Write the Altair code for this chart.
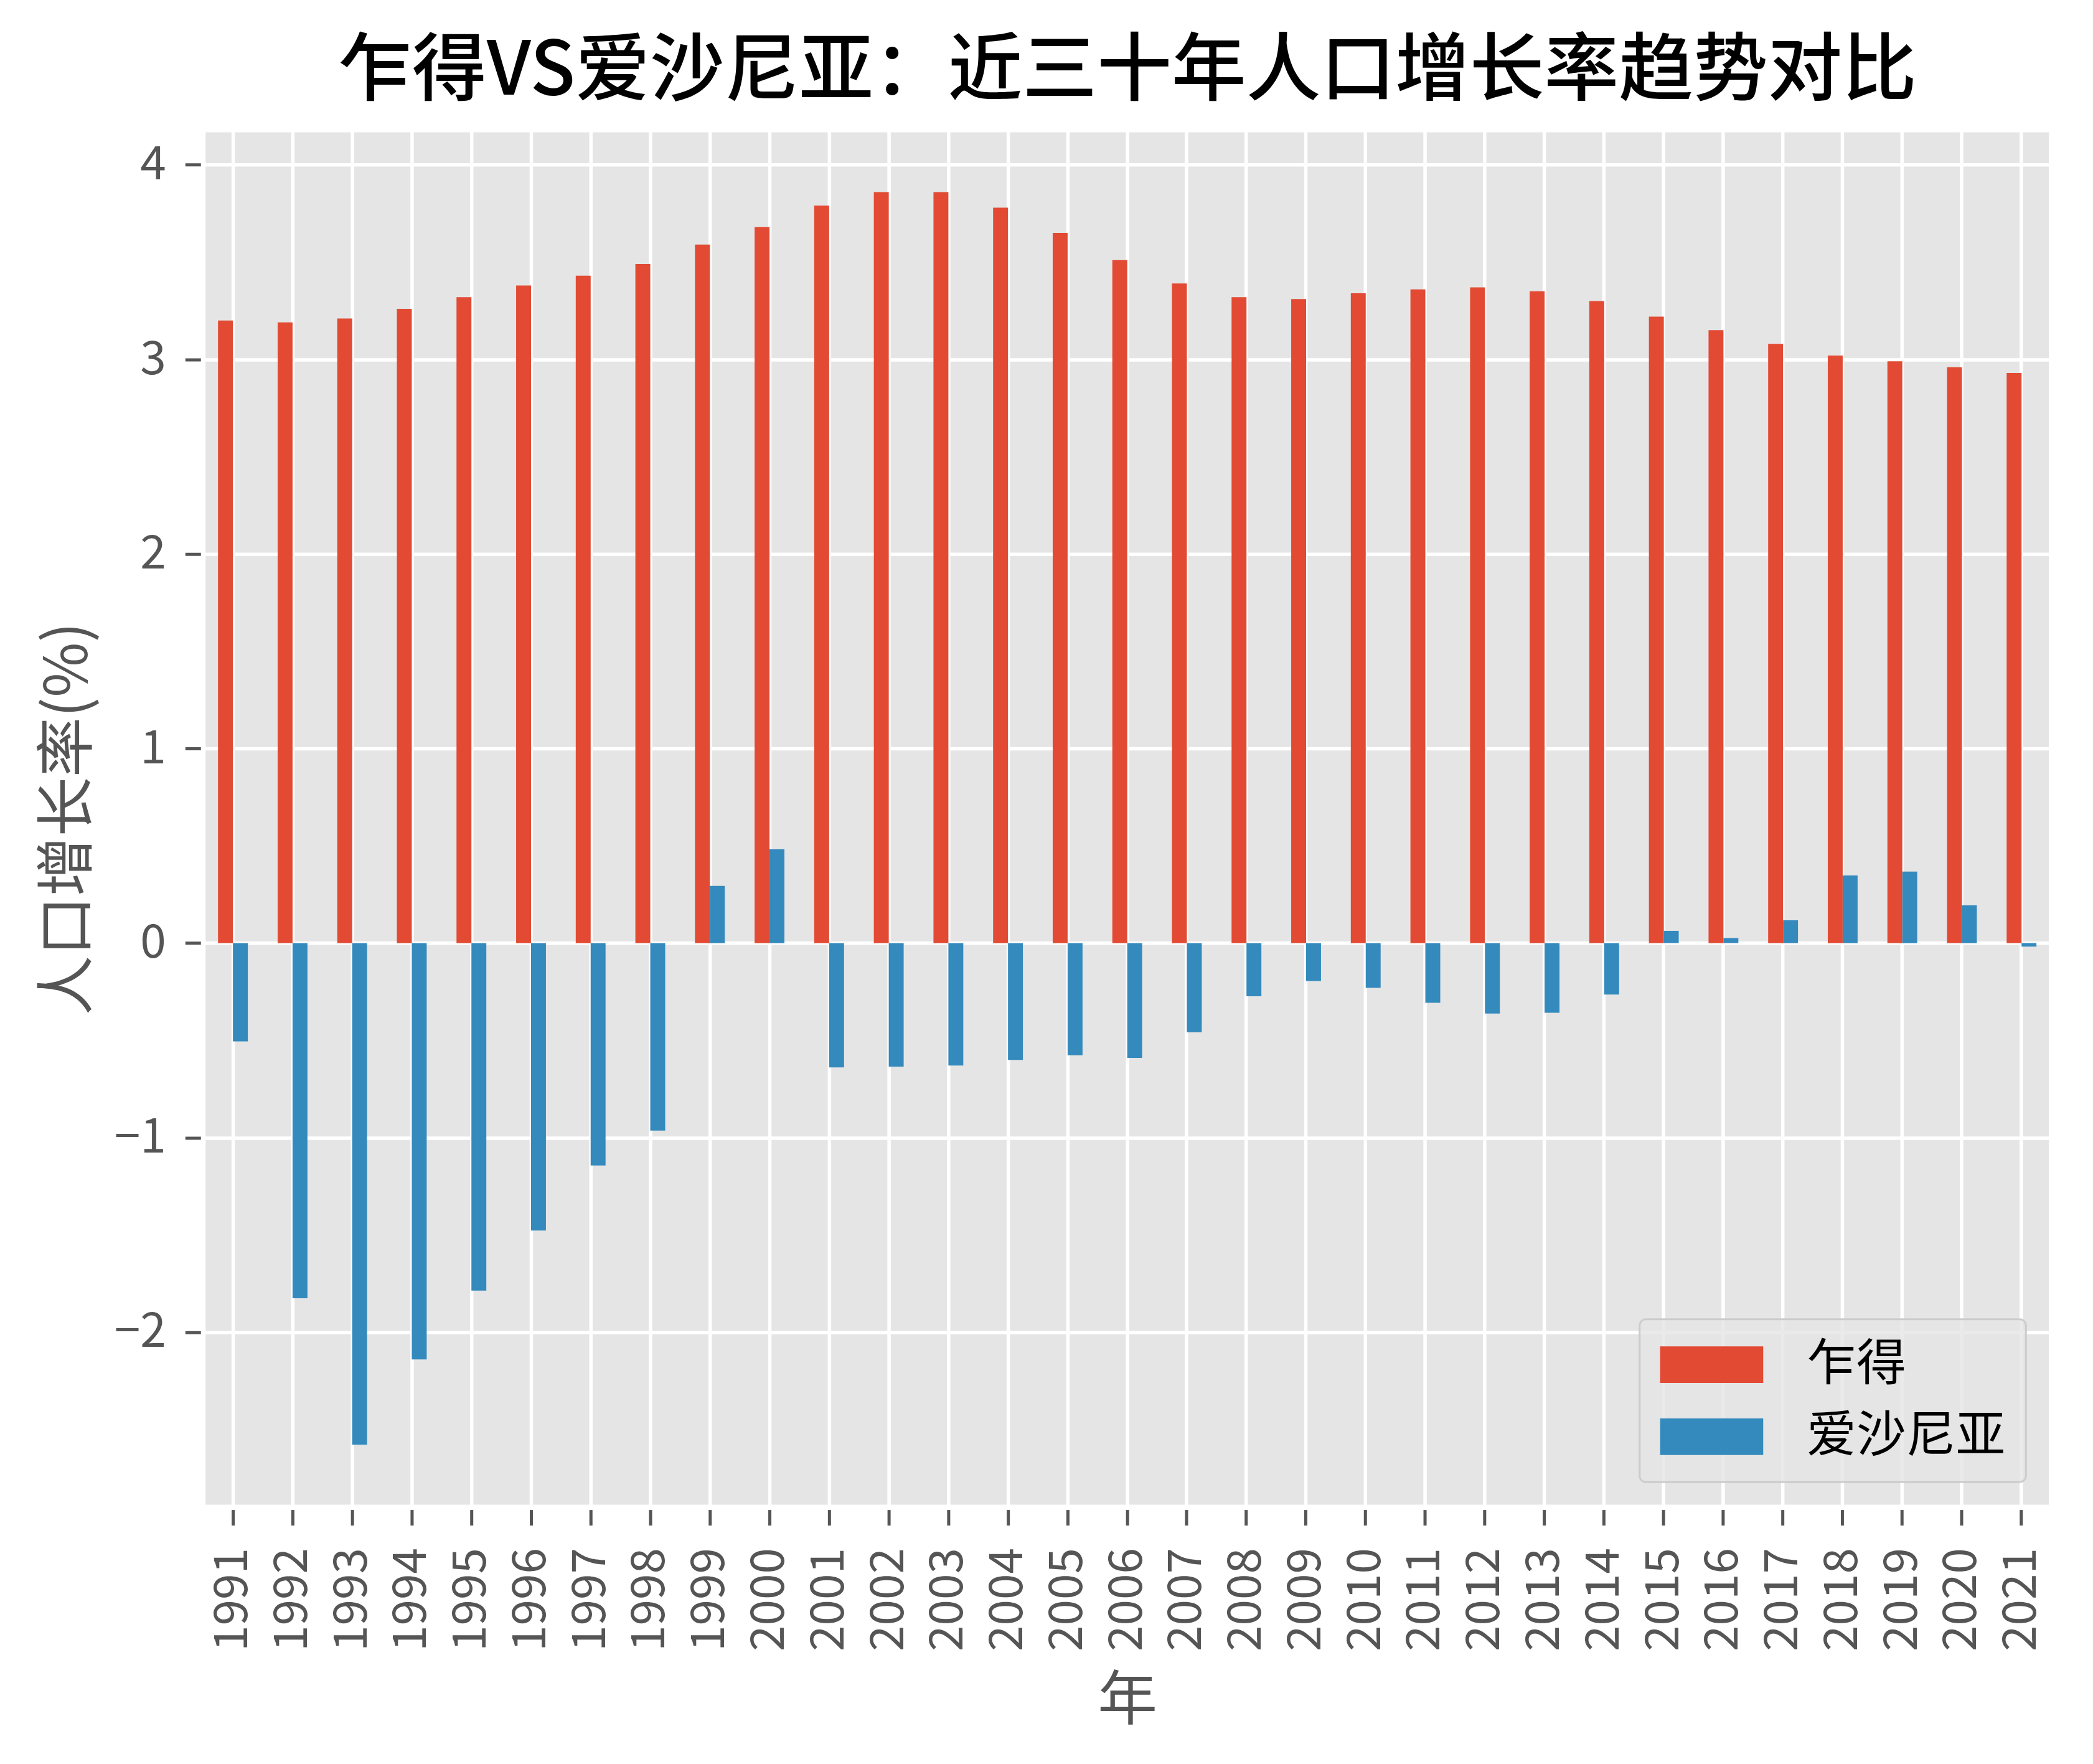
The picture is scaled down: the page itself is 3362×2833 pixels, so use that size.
import altair as alt
import pandas as pd

years = ["1991", "1992", "1993", "1994", "1995", "1996", "1997", "1998", "1999", "2000",
         "2001", "2002", "2003", "2004", "2005", "2006", "2007", "2008", "2009", "2010",
         "2011", "2012", "2013", "2014", "2015", "2016", "2017", "2018", "2019", "2020", "2021"]

chad = [3.20, 3.19, 3.21, 3.26, 3.32, 3.38, 3.43, 3.49, 3.59, 3.68,
        3.79, 3.86, 3.86, 3.78, 3.65, 3.51, 3.39, 3.32, 3.31, 3.34,
        3.36, 3.37, 3.35, 3.30, 3.22, 3.15, 3.08, 3.02, 2.99, 2.96, 2.93]

estonia = [-0.505, -1.825, -2.578, -2.140, -1.786, -1.477, -1.143, -0.964, 0.294, 0.482,
           -0.639, -0.635, -0.629, -0.600, -0.576, -0.590, -0.458, -0.273, -0.195, -0.230,
           -0.307, -0.362, -0.358, -0.264, 0.063, 0.026, 0.117, 0.348, 0.368, 0.194, -0.018]

countries = ["乍得", "爱沙尼亚"]
colors = ["#E24A33", "#348ABD"]
y_ticks = [-2, -1, 0, 1, 2, 3, 4]

rows = []
for i, yr in enumerate(years):
    rows.append({"年份": yr, "国家": countries[0], "增长率": chad[i]})
    rows.append({"年份": yr, "国家": countries[1], "增长率": estonia[i]})
df = pd.DataFrame(rows)

FONT = "Noto Sans CJK SC"

chart = alt.Chart(df).mark_bar().encode(
    x=alt.X("年份:N", sort=years,
            scale=alt.Scale(paddingInner=0, paddingOuter=0.042),
            axis=alt.Axis(title="年", labelAngle=-90, bandPosition=0.5,
                          labelPadding=36, titlePadding=62, labelOverlap=False,
                          labelFlush=False)),
    xOffset=alt.XOffset("国家:N", sort=countries,
                        scale=alt.Scale(paddingInner=0, paddingOuter=1)),
    y=alt.Y("增长率:Q", stack=None,
            scale=alt.Scale(domain=[-2.912, 4.193], nice=False),
            axis=alt.Axis(title="人口增长率(%)", values=y_ticks, labelPadding=31,
                          titlePadding=24)),
    color=alt.Color("国家:N", sort=countries,
                    scale=alt.Scale(domain=countries, range=colors),
                    legend=alt.Legend(title=None, orient="bottom-right", offset=45,
                                      padding=33,
                                      fillColor="rgba(229,229,229,0.8)",
                                      strokeColor="#cccccc", cornerRadius=10,
                                      labelFont=FONT, labelFontSize=80,
                                      labelColor="black", labelLimit=2000,
                                      labelAlign="left",
                                      symbolType="M-2.767,-0.983L2.767,-0.983L2.767,0.983L-2.767,0.983Z",
                                      symbolSize=3600, symbolOffset=43,
                                      labelOffset=113, rowPadding=36,
                                      symbolStrokeWidth=0, symbolOpacity=1)),
).properties(
    width=2984,
    height=2225.5,
    autosize=alt.AutoSizeParams(type="none"),
    padding={"left": 315, "top": 193.5, "right": 55, "bottom": 395},
    title=alt.TitleParams("乍得VS爱沙尼亚：近三十年人口增长率趋势对比", font=FONT,
                          fontSize=120, fontWeight=500, color="black",
                          anchor="middle", frame="group", offset=28),
).configure(
    font=FONT,
).configure_axis(
    labelFont=FONT, titleFont=FONT, labelColor="#555555", titleColor="#555555",
    labelFontSize=75, titleFontSize=96, titleFontWeight="normal",
    tickColor="#555555", tickWidth=5, tickSize=25,
    gridColor="white", gridWidth=5.5, domain=False, grid=True,
).configure_legend(
    strokeWidth=3,
).configure_view(
    fill="#E5E5E5", stroke="white", strokeWidth=16,
)

chart.save("out.html", embed_options={"renderer": "svg", "actions": False})
